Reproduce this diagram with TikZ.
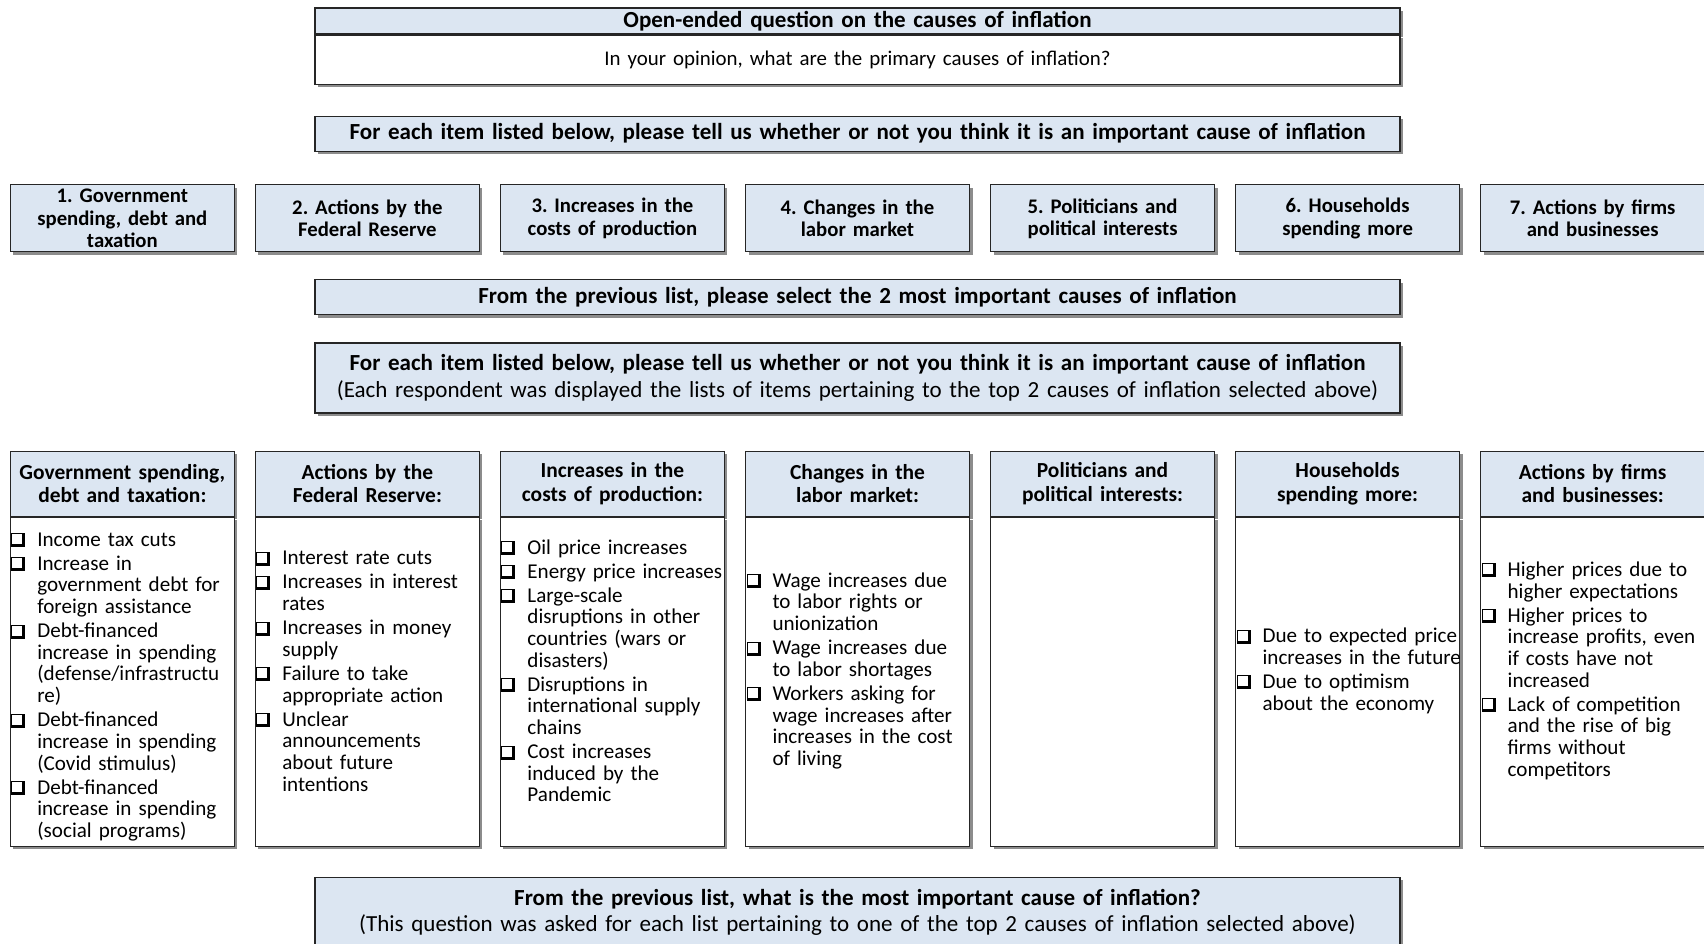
\documentclass[tikz,border=0pt]{standalone}
\usepackage{fontspec}
\setmainfont{Carlito}
\usepackage{tikz}
\usetikzlibrary{positioning,shadows}
\definecolor{hdrblue}{RGB}{220,230,242}
\frenchspacing
\newcommand{\chk}{\makebox[0.54cm][l]{\kern0.02cm\rlap{\rule[-0.02cm]{0.28cm}{0.28cm}}\kern0.02cm\textcolor{white}{\rule[0.04cm]{0.2cm}{0.2cm}}}}
\newcommand{\itm}{\par\setlength{\parskip}{1.3pt}\rightskip=-0.3cm plus 1fil\hyphenpenalty=10000\hangindent=0.54cm\hangafter=1\noindent\chk}
\newcommand{\lstend}{\par\kern0.62cm}

\begin{document}
\begin{tikzpicture}[node distance=0.54cm,
  box/.style={rectangle, draw=black!85, line width=0.6pt, inner sep=0pt, align=center,
    drop shadow={shadow xshift=0.06cm, shadow yshift=-0.06cm, fill=black!45, opacity=1}},
  hdr/.style={box, fill=hdrblue, font=\fontsize{12.2}{13.6}\selectfont\bfseries},
  bighdr/.style={hdr, font=\fontsize{13.1}{15}\selectfont\bfseries},
  plain/.style={box, fill=white, font=\fontsize{11.9}{13}\selectfont},
  wide/.style={minimum width=21.7cm, text width=21.5cm},
  cause/.style={hdr, minimum width=4.48cm, text width=4.4cm, minimum height=1.34cm,
    font=\fontsize{11.8}{12.6}\selectfont\bfseries},
  colhead/.style={hdr, minimum width=4.48cm, text width=4.4cm, minimum height=1.3cm},
  colbody/.style={box, fill=white, align=left, text width=4.48cm, minimum height=6.58cm,
    font=\fontsize{12}{12.35}\selectfont}]
\useasboundingbox (0,0) rectangle (34.08,-18.88);
% open question
\node[bighdr, wide, minimum height=0.52cm] (open) at (17.15,-0.42) {Open-ended question on the causes of inflation};
\node[plain, wide, minimum height=0.98cm, below=0cm of open] (openq) {In your opinion, what are the primary causes of inflation?};
\node[bighdr, wide, minimum height=0.7cm, below=0.62cm of openq] (each1) {For each item listed below, please tell us whether or not you think it is an important cause of inflation};
% the seven causes
\node[cause, below=0.655cm of each1] (c4) {4. Changes in the\\labor market};
\node[cause, left=0.4cm of c4] (c3) {3. Increases in the\\costs of production};
\node[cause, left=0.4cm of c3] (c2) {2. Actions by the\\Federal Reserve};
\node[cause, left=0.4cm of c2] (c1) {1. Government\\spending, debt and\\taxation};
\node[cause, right=0.4cm of c4] (c5) {5. Politicians and\\political interests};
\node[cause, right=0.4cm of c5] (c6) {6. Households\\spending more};
\node[cause, right=0.4cm of c6] (c7) {7. Actions by firms\\and businesses};
\node[bighdr, wide, minimum height=0.7cm, below=of c4] (top2) {From the previous list, please select the 2 most important causes of inflation};
\node[bighdr, wide, minimum height=1.4cm, below=of top2] (each2) {For each item listed below, please tell us whether or not you think it is an important cause of inflation\\\mdseries (Each respondent was displayed the lists of items pertaining to the top 2 causes of inflation selected above)};
% item lists
\node[colhead, below=0.74cm of each2] (h4) {Changes in the\\labor market:};
\node[colhead, left=0.4cm of h4] (h3) {Increases in the\\costs of production:};
\node[colhead, left=0.4cm of h3] (h2) {Actions by the\\Federal Reserve:};
\node[colhead, left=0.4cm of h2] (h1) {Government spending,\\debt and taxation:};
\node[colhead, right=0.4cm of h4] (h5) {Politicians and\\political interests:};
\node[colhead, right=0.4cm of h5] (h6) {Households\\spending more:};
\node[colhead, right=0.4cm of h6] (h7) {Actions by firms\\and businesses:};
\node[colbody, below=0cm of h1] (b1) {\itm Income tax cuts
  \itm Increase in\newline government debt for\newline foreign assistance
  \itm Debt-financed\newline increase in spending\newline (defense/infrastructu\newline re)
  \itm Debt-financed\newline increase in spending\newline (Covid stimulus)
  \itm Debt-financed\newline increase in spending\newline (social programs)\par};
\node[colbody, below=0cm of h2] (b2) {\itm Interest rate cuts
  \itm Increases in interest\newline rates
  \itm Increases in money\newline supply
  \itm Failure to take\newline appropriate action
  \itm Unclear\newline announcements\newline about future\newline intentions\lstend};
\node[colbody, below=0cm of h3] (b3) {\itm Oil price increases
  \itm Energy price increases
  \itm Large-scale\newline disruptions in other\newline countries (wars or\newline disasters)
  \itm Disruptions in\newline international supply\newline chains
  \itm Cost increases\newline induced by the\newline Pandemic\lstend};
\node[colbody, below=0cm of h4] (b4) {\itm Wage increases due\newline to labor rights or\newline unionization
  \itm Wage increases due\newline to labor shortages
  \itm Workers asking for\newline wage increases after\newline increases in the cost\newline of living\lstend};
\node[colbody, below=0cm of h5] (b5) {};
\node[colbody, below=0cm of h6] (b6) {\itm Due to expected price\newline increases in the future
  \itm Due to optimism\newline about the economy\lstend};
\node[colbody, below=0cm of h7] (b7) {\itm Higher prices due to\newline higher expectations
  \itm Higher prices to\newline increase profits, even\newline if costs have not\newline increased
  \itm Lack of competition\newline and the rise of big\newline firms without\newline competitors\lstend};
% final question
\node[bighdr, wide, minimum height=1.4cm, below=0.6cm of b4] (most) {From the previous list, what is the most important cause of inflation?\\\mdseries (This question was asked for each list pertaining to one of the top 2 causes of inflation selected above)};
\end{tikzpicture}
\end{document}
